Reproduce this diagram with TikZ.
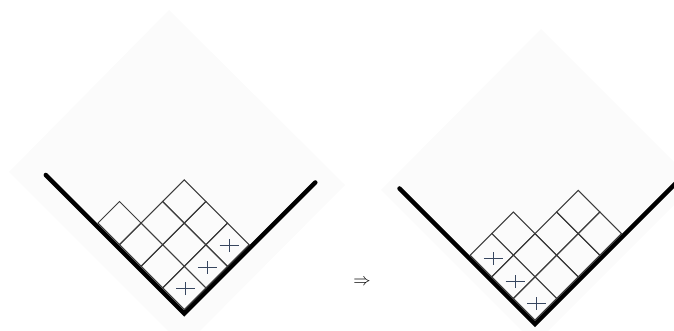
\documentclass[tikz,border=0pt]{standalone}
\usepackage{amsmath, amssymb}
\definecolor{paper}{RGB}{251,251,251}
\definecolor{cellgray}{RGB}{60,60,60}
\definecolor{markblue}{RGB}{55,70,95}
\tikzset{
	wall/.style={line width=4.5pt, line cap=round, line join=miter},
	cellline/.style={line width=1pt, draw=cellgray},
	plusmark/.style={line width=1pt, draw=markblue},
}

\begin{document}
\begin{tikzpicture}[x=1pt, y=1pt]
	% Paper, walls, cells and marks:
	\useasboundingbox (0,0) rectangle (674,331);
	\clip (0,0) rectangle (674,331);
	\fill[paper] (169,321) -- (9,159) -- (184,-16) -- (345,146) -- cycle;
	\fill[paper] (541,302) -- (381,141) -- (535,-13) -- (695.5,147.5) -- cycle;
	\coordinate (vL) at (184.3,17.5);
	\coordinate (vR) at (535,7);
	\draw[wall] (45.8,156) -- (vL) -- (315.3,148.5);
	\draw[wall] (399.5,142.5) -- (vR) -- (685,157);
	\begin{scope}[shift={(184.3,21.5)}, x={(21.6pt,21.6pt)}, y={(-21.6pt,21.6pt)}]
		\foreach \i/\j in {0/0, 1/0, 2/0, 0/1, 1/1, 2/1, 0/2, 1/2, 2/2, 0/3}
			\draw[cellline] (\i,\j) -- ++(1,0) -- ++(0,1) -- ++(-1,0) -- cycle;
	\end{scope}
	\begin{scope}[shift={(535,11)}, x={(21.6pt,21.6pt)}, y={(-21.6pt,21.6pt)}]
		\foreach \i/\j in {0/0, 0/1, 0/2, 1/0, 1/1, 1/2, 2/0, 2/1, 3/0, 3/1}
			\draw[cellline] (\i,\j) -- ++(1,0) -- ++(0,1) -- ++(-1,0) -- cycle;
	\end{scope}
	\foreach \p in {(185.8,42.3), (207.4,63.9), (229,85.5), (493.3,72.7), (515,49.3), (536.7,27.7)}
		\draw[plusmark] \p +(-9.5,0) -- +(9.5,0) \p +(0,-6.5) -- +(0,6.5);
	\node (arrow) at (362,49) {\fontsize{18}{18}\selectfont$\Rightarrow$};
\end{tikzpicture}
\end{document}
